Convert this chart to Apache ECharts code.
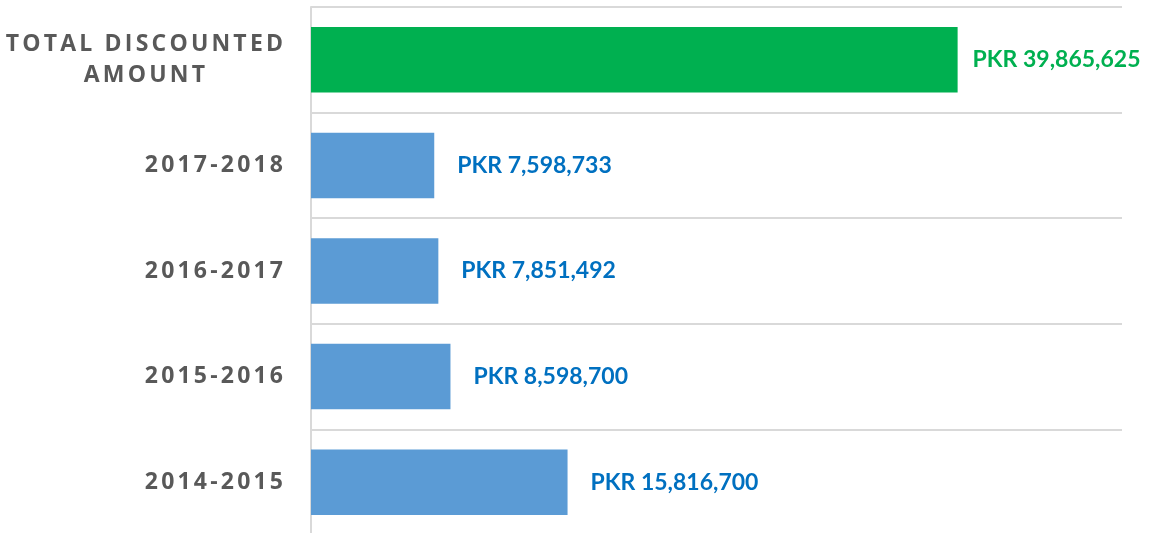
<!DOCTYPE html>
<html>
<head>
<meta charset="utf-8">
<script src="https://cdn.jsdelivr.net/npm/echarts@6/dist/echarts.min.js"></script>
<style>
  html, body { margin: 0; padding: 0; background: #fff; }
  #chart { width: 1152px; height: 533px; }
</style>
</head>
<body>
<div id="chart"></div>
<script>
// categories top to bottom
const categories = ['TOTAL DISCOUNTED\nAMOUNT', '2017-2018', '2016-2017', '2015-2016', '2014-2015']
const amounts = [39865625, 7598733, 7851492, 8598700, 15816700]
const barColors = ['#00B050', '#5B9BD5', '#5B9BD5', '#5B9BD5', '#5B9BD5']
const labelColors = ['#00B050', '#0070C0', '#0070C0', '#0070C0', '#0070C0']
const labelGaps = [15, 23, 23, 23, 23]

// letter spaced category text: every char in its own rich token
const spaced = (text) =>
  text.split('\n').map(line => line.split('').map(ch => '{c|' + ch + '}').join('{g| }')).join('\n')

const catFont = { fontFamily: 'Open Sans', fontWeight: 'bold', fontSize: 23, color: '#595959' }

const chart = echarts.init(document.getElementById('chart'))
chart.setOption({
  animation: false,
  grid: { left: 311, right: 30, top: 7, height: 528, containLabel: false, outerBoundsMode: 'none' },
  xAxis: {
    type: 'value',
    min: 0,
    max: 50000000,
    axisLine: { show: false },
    axisTick: { show: false },
    axisLabel: { show: false },
    splitLine: { show: false },
  },
  yAxis: {
    type: 'category',
    inverse: true,
    data: categories,
    axisLine: { show: true, lineStyle: { color: '#d9d9d9', width: 2 } },
    axisTick: { show: false },
    splitLine: { show: true, lineStyle: { color: '#d9d9d9', width: 2 } },
    axisLabel: {
      margin: 28,
      ...catFont,
      lineHeight: 31,
      formatter: (v) => spaced(v),
      rich: {
        c: { ...catFont, lineHeight: 31, align: 'center' },
        g: { ...catFont, lineHeight: 31, width: 3.2, align: 'center' },
      },
    },
  },
  series: [
    {
      type: 'bar',
      barCategoryGap: '38%',
      data: amounts.map((v, i) => ({
        value: v,
        itemStyle: { color: barColors[i] },
        label: { color: labelColors[i], distance: labelGaps[i] },
      })),
      label: {
        show: true,
        position: 'right',
        fontFamily: 'Lato',
        fontWeight: 'bold',
        fontSize: 23,
        formatter: (p) => 'PKR ' + p.value.toLocaleString('en-US'),
      },
    },
  ],
})
</script>
</body>
</html>
